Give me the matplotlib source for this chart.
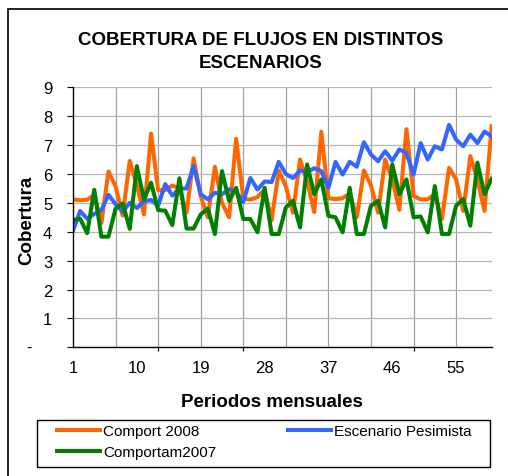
import numpy as np
import matplotlib
matplotlib.use("Agg")
import matplotlib.pyplot as plt
import matplotlib.transforms as mtransforms
from matplotlib.patches import Rectangle

# datos (60 periodos mensuales)
periodos = np.arange(1, 61)

comport_2008 = [5.12, 5.09, 5.11, 5.28, 4.30, 6.09, 5.57, 4.56, 6.45, 5.60, 4.60, 7.40,
                5.44, 5.44, 5.60, 5.50, 4.66, 6.54, 5.23, 4.50, 6.25, 5.00, 4.50, 7.22,
                5.15, 5.11, 5.20, 5.46, 4.40, 6.12, 5.57, 4.66, 6.50, 5.74, 4.68, 7.46,
                5.16, 5.13, 5.16, 5.33, 4.50, 6.12, 5.60, 4.66, 6.50, 5.80, 4.76, 7.55,
                5.24, 5.12, 5.12, 5.30, 4.44, 6.21, 5.81, 4.72, 6.62, 5.80, 4.72, 7.65]

escenario_pesimista = [4.03, 4.72, 4.45, 4.62, 4.75, 5.28, 4.95, 4.70, 5.00, 4.82, 5.05, 5.10,
                       4.90, 5.65, 5.25, 5.50, 5.50, 6.27, 5.30, 5.12, 5.35, 5.30, 5.47, 5.38,
                       5.03, 5.86, 5.46, 5.74, 5.72, 6.42, 6.00, 5.86, 6.12, 6.06, 6.20, 6.10,
                       5.52, 6.42, 5.98, 6.42, 6.25, 7.10, 6.67, 6.44, 6.79, 6.46, 6.85, 6.72,
                       5.98, 7.07, 6.50, 6.96, 6.85, 7.70, 7.19, 6.96, 7.36, 7.07, 7.47, 7.30]

comportam_2007 = [4.40, 4.45, 3.95, 5.45, 3.83, 3.83, 4.80, 4.98, 4.10, 6.27, 5.12, 5.70,
                  4.75, 4.73, 4.23, 5.85, 4.11, 4.11, 4.60, 4.80, 3.92, 6.10, 5.07, 5.52,
                  4.44, 4.44, 3.98, 5.52, 3.92, 3.92, 4.84, 5.07, 4.15, 6.33, 5.30, 5.81,
                  4.55, 4.50, 3.98, 5.52, 3.92, 3.92, 4.90, 5.07, 4.15, 6.33, 5.30, 5.81,
                  4.50, 4.53, 3.98, 5.58, 3.92, 3.92, 4.90, 5.13, 4.21, 6.39, 5.30, 5.83]

etiquetas_x = [1, 10, 19, 28, 37, 46, 55]
marcas_x = [1, 13, 25, 37, 49]
rejilla_x = [7, 13, 19, 25, 31, 37, 43, 49, 55]
niveles_y = list(range(0, 10))

W, H = 508, 477


def fy(y):
    # pixel desde arriba -> fraccion de figura
    return 1 - y / H


def main():
    plt.rcParams['font.family'] = ['Liberation Sans', 'DejaVu Sans']
    fig = plt.figure(figsize=(W / 100, H / 100), dpi=100)

    # borde del area del grafico
    fig.patches.append(Rectangle((7.5 / W, -0.1), 1.2, fy(10) + 0.1, transform=fig.transFigure,
                                 fill=False, ec='black', lw=1.2))

    ax = fig.add_axes([73 / W, fy(348.3), (491.6 - 73) / W, (348.3 - 88.3) / H])
    ax.set_xlim(1, 60)
    ax.set_ylim(0, 9)

    for v in rejilla_x:
        ax.axvline(v, color='#a0a0a0', lw=0.9, zorder=0)
    ax.set_yticks(niveles_y)
    ax.set_yticklabels([''] + [str(v) for v in niveles_y[1:]])
    ax.yaxis.grid(True, color='#b4b4b4', lw=0.9)
    ax.set_axisbelow(True)
    ax.tick_params(axis='y', direction='out', length=4, width=0.8, pad=11, labelsize=12)
    trans = mtransforms.blended_transform_factory(ax.transAxes, ax.transData)
    ax.text(-(73 - 29) / (491.6 - 73), 0, '-', transform=trans, ha='center', va='center', fontsize=12)

    ax.set_xticks(etiquetas_x)
    ax.tick_params(axis='x', which='major', length=0, pad=9, labelsize=12)
    ax.set_xticks(marcas_x, minor=True)
    ax.tick_params(axis='x', which='minor', direction='out', length=3, width=0.8)

    for s in ['top', 'right']:
        ax.spines[s].set_visible(False)
    for s in ['left', 'bottom']:
        ax.spines[s].set_linewidth(1)
        ax.spines[s].set_color('black')

    l1, = ax.plot(periodos, comport_2008, color='#FF6600', lw=2.9, label='Comport 2008')
    l2, = ax.plot(periodos, escenario_pesimista, color='#3366FF', lw=2.9, label='Escenario Pesimista')
    l3, = ax.plot(periodos, comportam_2007, color='#008000', lw=2.9, label='Comportam2007')

    fig.text(261 / W, fy(45), 'COBERTURA DE FLUJOS EN DISTINTOS', ha='center', va='baseline',
             fontsize=13.5, fontweight='bold')
    fig.text(261 / W, fy(68), 'ESCENARIOS', ha='center', va='baseline',
             fontsize=13.5, fontweight='bold')
    fig.text(272 / W, fy(407.5), 'Periodos mensuales', ha='center', va='baseline',
             fontsize=13.5, fontweight='bold')
    fig.text(27 / W, fy(220), 'Cobertura', ha='center', va='center', rotation=90,
             fontsize=13.5, fontweight='bold')

    # leyenda
    fig.patches.append(Rectangle((37 / W, fy(468)), (490 - 37) / W, (468 - 420.7) / H,
                                 transform=fig.transFigure, fill=False, ec='black', lw=1))
    fig.legend([l1, l3, l2], ['Comport 2008', 'Comportam2007', 'Escenario Pesimista'],
               loc='upper left', bbox_to_anchor=(57 / W, fy(425)), ncol=2, frameon=False,
               borderpad=0, borderaxespad=0, handlelength=2.8, handletextpad=0.2,
               columnspacing=4.7, labelspacing=0.45, fontsize=11)

    plt.savefig("out.png", dpi=100)


if __name__ == "__main__":
    main()
